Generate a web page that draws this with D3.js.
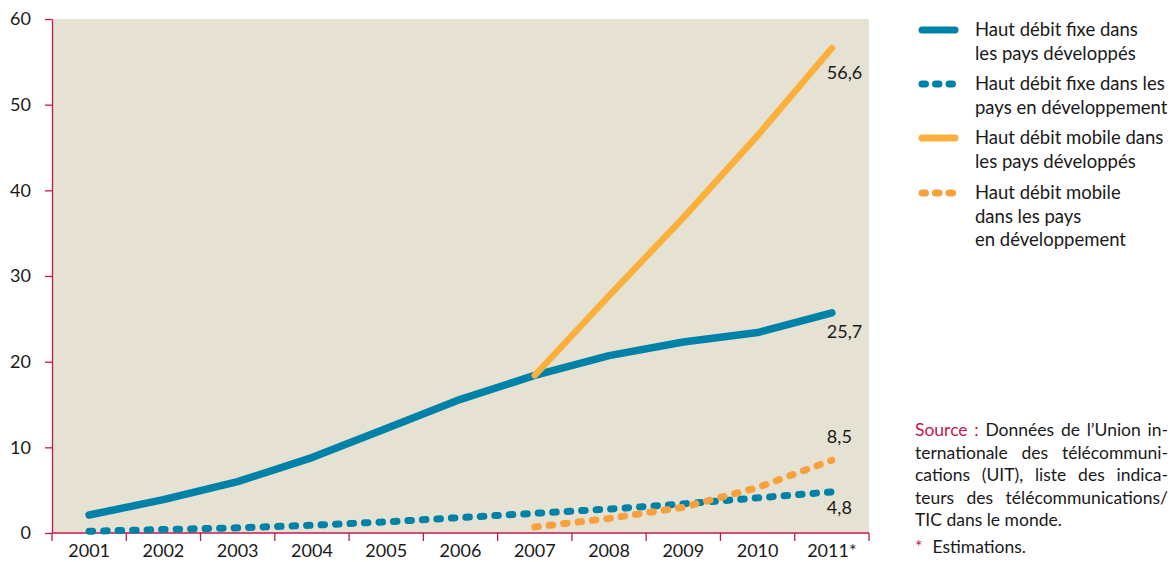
<!DOCTYPE html>
<html lang="fr">
<head>
<meta charset="UTF-8">
<title>Haut débit</title>
<script src="https://cdn.jsdelivr.net/npm/d3@7"></script>
<style>
  body { margin: 0; background: #fff; font-family: Lato, 'Open Sans', sans-serif; }
  svg text { fill: #1a1a1a; }
</style>
</head>
<body>
<div id="chart"></div>
<script>
var years = ["2001","2002","2003","2004","2005","2006","2007","2008","2009","2010","2011*"];
var fixeDev    = [2.1, 3.9, 6.0, 8.8, 12.2, 15.6, 18.4, 20.7, 22.3, 23.4, 25.7];
var fixeEnDev  = [0.2, 0.4, 0.6, 0.9, 1.3, 1.8, 2.3, 2.8, 3.4, 4.1, 4.8];
var mobileDev  = [null, null, null, null, null, null, 18.4, 27.7, 36.8, 46.4, 56.6];
var mobileEnDev= [null, null, null, null, null, null, 0.7, 1.7, 3.0, 5.3, 8.5];
var yTicks = [0, 10, 20, 30, 40, 50, 60];
var endLabels = ["25,7", "4,8", "56,6", "8,5"];
var legendLabels = [
  ["Haut débit fixe dans", "les pays développés"],
  ["Haut débit fixe dans les", "pays en développement"],
  ["Haut débit mobile dans", "les pays développés"],
  ["Haut débit mobile", "dans les pays", "en développement"]
];
var sourceLines = [
  "Données de l’Union in-",
  "ternationale des télécommuni-",
  "cations (UIT), liste des indica-",
  "teurs des télécommunications/",
  "TIC dans le monde."
];

var w = 1173, h = 562;
var mLeft = 52, mRight = 869, mTop = 19, mBottom = 533;
var crimson = "#c4174f";
var blue = "#0082a8", orange = "#fbb03b", orange2 = "#f8a03c";

var svg = d3.select("#chart").append("svg")
  .attr("width", w).attr("height", h);

var x = d3.scaleBand().domain(years).range([mLeft, mRight]);
var y = d3.scaleLinear().domain([0, 60]).range([mBottom, mTop]);
var cx = function(i) { return x(years[i]) + x.bandwidth() / 2; };

svg.append("rect")
  .attr("x", mLeft).attr("y", mTop)
  .attr("width", mRight - mLeft).attr("height", mBottom - mTop)
  .attr("fill", "#e5e2d3");

// axes
var yAxis = svg.append("g")
  .attr("transform", "translate(" + mLeft + ",0)")
  .call(d3.axisLeft(y).tickValues(yTicks).tickSize(7).tickSizeOuter(0).tickPadding(14));
yAxis.select(".domain").attr("stroke", crimson).attr("stroke-width", 1.3);
yAxis.selectAll(".tick line").attr("stroke", crimson).attr("stroke-width", 1.3);
yAxis.selectAll("text").style("font-size", "18px").attr("fill", "#1a1a1a")
  .style("font-family", "Lato, sans-serif");

svg.append("line")
  .attr("x1", mLeft).attr("x2", mRight).attr("y1", mBottom).attr("y2", mBottom)
  .attr("stroke", crimson).attr("stroke-width", 1.3);
svg.selectAll(".xtick").data(years.concat(["end"])).enter().append("line")
  .attr("x1", function(d) { return d === "end" ? mRight : x(d); })
  .attr("x2", function(d) { return d === "end" ? mRight : x(d); })
  .attr("y1", mBottom).attr("y2", mBottom + 8)
  .attr("stroke", crimson).attr("stroke-width", 1.3);
svg.selectAll(".xlab").data(years).enter().append("text")
  .attr("x", function(d) { return x(d) + x.bandwidth() / 2; })
  .attr("y", 557)
  .attr("text-anchor", "middle")
  .style("font-size", "18px")
  .text(function(d) { return d; });

// lines
var line = d3.line()
  .defined(function(d) { return d != null; })
  .x(function(d, i) { return cx(i); })
  .y(function(d) { return y(d); });

var series = [
  { data: fixeDev, color: blue, width: 7.5, dash: null },
  { data: fixeEnDev, color: blue, width: 7, dash: "3.5 11" },
  { data: mobileDev, color: orange, width: 6.5, dash: null },
  { data: mobileEnDev, color: orange2, width: 7, dash: "3.5 11" }
];
// draw order: dotted first, then solids
[1, 3, 0, 2].forEach(function(k) {
  var s = series[k];
  svg.append("path")
    .attr("d", line(s.data))
    .attr("fill", "none")
    .attr("stroke", s.color)
    .attr("stroke-width", s.width)
    .attr("stroke-linecap", "round")
    .attr("stroke-linejoin", "round")
    .attr("stroke-dasharray", s.dash);
});

// end labels
var labOffsets = [25, 22, 31, -17];
series.forEach(function(s, k) {
  svg.append("text")
    .attr("x", cx(10) - 5)
    .attr("y", y(s.data[10]) + labOffsets[k])
    .style("font-size", "18px")
    .text(endLabels[k]);
});

// legend
var legY = [30, 84, 138, 193];
legendLabels.forEach(function(lines, k) {
  var s = series[k];
  svg.append("line")
    .attr("x1", 922).attr("x2", 955)
    .attr("y1", legY[k]).attr("y2", legY[k])
    .attr("stroke", s.color)
    .attr("stroke-width", 7)
    .attr("stroke-linecap", "round")
    .attr("stroke-dasharray", s.dash ? "3.5 10" : null);
  lines.forEach(function(t, j) {
    svg.append("text")
      .attr("x", 975).attr("y", legY[k] + 6 + j * 23.5)
      .style("font-size", "18.5px")
      .text(t);
  });
});

// source, justified by word spacing
var srcW = 253;
function justify(sel) {
  var txt = sel.text();
  var n = (txt.match(/ /g) || []).length;
  var len = sel.node().getComputedTextLength();
  if (len > srcW) sel.attr("textLength", srcW).attr("lengthAdjust", "spacingAndGlyphs");
  else if (n > 0) sel.attr("word-spacing", (srcW - len) / n);
}
var src = svg.append("text").attr("x", 915).attr("y", 436)
  .style("font-size", "17.5px");
src.append("tspan").style("fill", crimson).text("Source : ");
src.append("tspan").text(sourceLines[0]);
justify(src);
sourceLines.slice(1).forEach(function(t, j) {
  var tx = svg.append("text")
    .attr("x", 915).attr("y", 436 + (j + 1) * 22.5)
    .style("font-size", "17.5px")
    .text(t);
  if (j < 3) justify(tx);
});
var est = svg.append("text").attr("x", 915).attr("y", 553).style("font-size", "17.5px");
est.append("tspan").style("fill", crimson).text("*");
est.append("tspan").attr("dx", 10).text("Estimations.");
</script>
</body>
</html>
